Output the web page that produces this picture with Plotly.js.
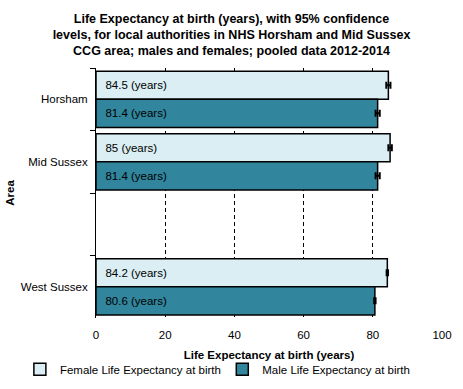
<!DOCTYPE html>
<html><head><meta charset="utf-8">
<script src="https://cdn.plot.ly/plotly-3.0.1.min.js"></script>
<style>html,body{margin:0;padding:0;background:#fff}#c{width:463px;height:389px}</style>
</head><body><div id="c"></div>
<script>
const areas = ["Horsham", "Mid Sussex", " ", "West Sussex"];
const femaleLE = [84.5, 85.0, null, 84.2];
const maleLE = [81.4, 81.4, null, 80.6];
const femaleCI = [0.6, 0.5, null, 0.2];
const maleCI = [0.6, 0.6, null, 0.2];
const seriesNames = ["Female Life Expectancy at birth", "Male Life Expectancy at birth"];
const xTicks = [0, 20, 40, 60, 80, 100];

const F = "Liberation Sans, Arial, sans-serif";
function mk(vals, ci, name, color, leg) {
  return {
    type: "bar", orientation: "h", y: areas, x: vals, name: name, legend: leg,
    marker: {color: color, line: {color: "#000", width: 1.5}},
    text: vals.map(v => v == null ? "" : "\u00a0\u00a0" + v + " (years)"),
    textposition: "inside", insidetextanchor: "start",
    textfont: {family: F, size: 11.5, color: "#000"},
    error_x: {type: "data", array: ci, visible: true, color: "#000", thickness: 2, width: 3.5},
    cliponaxis: false, hoverinfo: "skip"
  };
}
const data = [
  mk(femaleLE, femaleCI, seriesNames[0], "#DAEEF3", "legend"),
  mk(maleLE, maleCI, seriesNames[1], "#31859C", "legend2")
];
const legBase = {orientation: "h", yanchor: "middle", y: -0.205, xanchor: "left",
  font: {family: F, size: 11.5}, itemwidth: 30, bgcolor: "rgba(0,0,0,0)"};
const layout = {
  width: 463, height: 389,
  margin: {l: 96, r: 21, t: 68, b: 71, autoexpand: false},
  paper_bgcolor: "#fff", plot_bgcolor: "#fff",
  font: {family: F, size: 11, color: "#000"},
  title: {text: "<b>Life Expectancy at birth (years), with 95% confidence<br>levels, for local authorities in NHS Horsham and Mid Sussex<br>CCG area; males and females; pooled data 2012-2014</b>",
    font: {family: F, size: 12.5, color: "#000"}, x: 0.5, xanchor: "center", xref: "container", y: 0.942, yanchor: "middle", yref: "container"},
  barmode: "group", bargap: 0.1, bargroupgap: 0,
  xaxis: {range: [0, 100], tickvals: xTicks, showgrid: true, gridcolor: "#000", griddash: "4px,3px", gridwidth: 1,
    zeroline: false, showline: false, ticks: "", tickfont: {family: F, size: 11.5}, ticklabelstandoff: 8,
    title: {text: "<b>Life Expectancy at birth (years)</b>", font: {family: F, size: 11.5}, standoff: 11}, fixedrange: true},
  yaxis: {type: "category", categoryorder: "array", categoryarray: areas, autorange: "reversed",
    showline: true, linecolor: "#000", linewidth: 1, ticks: "outside", ticklen: 5, tickcolor: "#000",
    tickson: "boundaries", showgrid: false, tickfont: {family: F, size: 11.5}, ticklabelstandoff: 5,
    title: {text: "<b>Area</b>", font: {family: F, size: 11.5}, standoff: 3}},
  showlegend: true,
  legend: Object.assign({}, legBase, {x: -0.22}),
  legend2: Object.assign({}, legBase, {x: 0.365})
};
Plotly.newPlot("c", data, layout, {displayModeBar: false, staticPlot: true});
</script></body></html>
